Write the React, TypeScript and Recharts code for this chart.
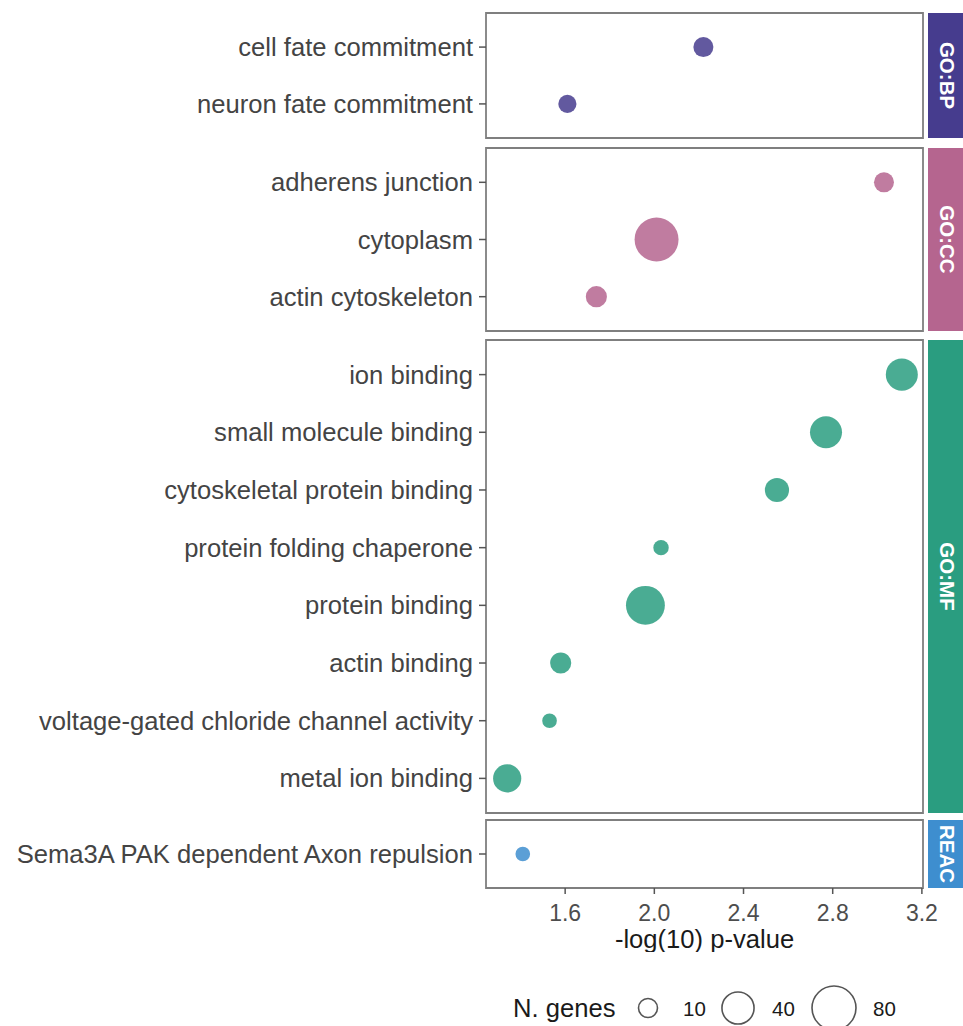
import React from 'react';
import { ScatterChart, Scatter, XAxis, YAxis, ZAxis, ReferenceArea } from 'recharts';

// ---------- data ----------
const facetNames = ['GO:BP', 'GO:CC', 'GO:MF', 'REAC'];
const facetColors = ['#463C8E', '#B5658F', '#2A9D80', '#3E8ECF'];

const bpTerms = ['cell fate commitment', 'neuron fate commitment'];
const bpLogP = [2.22, 1.61];
const bpGenes = [10, 7];

const ccTerms = ['adherens junction', 'cytoplasm', 'actin cytoskeleton'];
const ccLogP = [3.03, 2.01, 1.74];
const ccGenes = [10, 76, 12];

const mfTerms = [
  'ion binding',
  'small molecule binding',
  'cytoskeletal protein binding',
  'protein folding chaperone',
  'protein binding',
  'actin binding',
  'voltage-gated chloride channel activity',
  'metal ion binding',
];
const mfLogP = [3.11, 2.77, 2.55, 2.03, 1.96, 1.58, 1.53, 1.34];
const mfGenes = [37, 37, 18, 3, 58, 12, 2, 27];

const reacTerms = ['Sema3A PAK dependent Axon repulsion'];
const reacLogP = [1.41];
const reacGenes = [2];

const xTicks = [1.6, 2.0, 2.4, 2.8, 3.2];
const legendGenes = [10, 40, 80];
const xTitle = '-log(10) p-value';
const legendTitle = 'N. genes';

// ---------- layout ----------
const FONT = '"Liberation Sans", Arial, Helvetica, sans-serif';
const X_MIN = 1.245;
const X_MAX = 3.205;
const Z_DOMAIN: [number, number] = [0, 100];
const Z_RANGE: [number, number] = [132, 1954];
const PANEL_TOPS = [13, 148, 340, 820];
const PANEL_HEIGHTS = [125, 183, 473, 68];
const M = 4;
const X_AXIS_H = 60;

const facets = [
  { terms: bpTerms, logp: bpLogP, genes: bpGenes },
  { terms: ccTerms, logp: ccLogP, genes: ccGenes },
  { terms: mfTerms, logp: mfLogP, genes: mfGenes },
  { terms: reacTerms, logp: reacLogP, genes: reacGenes },
];

function zRadius(n: number) {
  const area = Z_RANGE[0] + ((n - Z_DOMAIN[0]) / (Z_DOMAIN[1] - Z_DOMAIN[0])) * (Z_RANGE[1] - Z_RANGE[0]);
  return Math.sqrt(area / Math.PI);
}

function Facet({ idx }: { idx: number }) {
  const f = facets[idx];
  const n = f.terms.length;
  const last = idx === facets.length - 1;
  const h = PANEL_HEIGHTS[idx];
  const data = f.terms.map((t, i) => ({ term: t, row: n - 1 - i, logp: f.logp[i], genes: f.genes[i] }));
  const rows = data.map((d) => d.row).sort((a, b) => a - b);
  const color = facetColors[idx];
  const xh = last ? X_AXIS_H : 0;
  return (
    <div style={{ position: 'absolute', left: 0, top: PANEL_TOPS[idx] - M }}>
      <ScatterChart width={963} height={h + 2 * M + xh} margin={{ top: M, right: 40, bottom: M, left: 0 }}>
        <XAxis
          type="number"
          dataKey="logp"
          domain={[X_MIN, X_MAX]}
          ticks={xTicks}
          allowDataOverflow
          hide={!last}
          height={xh}
          axisLine={false}
          tickSize={6}
          tickMargin={11}
          tickLine={{ stroke: '#555', strokeWidth: 1.5 }}
          tick={{ fontSize: 23, fill: '#4d4d4d', fontFamily: FONT }}
          tickFormatter={(v: number) => v.toFixed(1)}
          label={
            last
              ? { value: xTitle, position: 'insideBottom', offset: 0, fontSize: 25.6, fill: '#1a1a1a', fontFamily: FONT }
              : undefined
          }
        />
        <YAxis
          type="number"
          dataKey="row"
          domain={[-0.6, n - 0.4]}
          ticks={rows}
          interval={0}
          allowDataOverflow
          width={486}
          axisLine={false}
          tickSize={7}
          tickMargin={6}
          tickLine={{ stroke: '#555', strokeWidth: 1.5 }}
          tick={{ fontSize: 25.6, fill: '#444444', fontFamily: FONT }}
          tickFormatter={(v: number) => f.terms[n - 1 - v]}
        />
        <ZAxis type="number" dataKey="genes" domain={Z_DOMAIN} range={Z_RANGE} />
        <ReferenceArea
          x1={X_MIN}
          x2={X_MAX}
          y1={-0.6}
          y2={n - 0.4}
          fill="none"
          stroke="#7f7f7f"
          strokeWidth={1.8}
          ifOverflow="visible"
        />
        <Scatter data={data} fill={color} fillOpacity={0.85} isAnimationActive={false} />
      </ScatterChart>
      <svg style={{ position: 'absolute', left: 928, top: M }} width={40} height={h}>
        <rect x={0} y={0} width={40} height={h} fill={color} />
        <text
          x={19.7}
          y={h / 2}
          transform={`rotate(90, 19.7, ${h / 2})`}
          textAnchor="middle"
          dominantBaseline="central"
          fill="#ffffff"
          fontWeight="bold"
          fontSize={20.5}
          fontFamily={FONT}
        >
          {facetNames[idx]}
        </text>
      </svg>
    </div>
  );
}

function SizeLegend() {
  const cxs = [648, 738, 834];
  const labelXs = [683, 772, 873];
  const cy = 1008;
  return (
    <svg style={{ position: 'absolute', left: 0, top: 0 }} width={963} height={1026} pointerEvents="none">
      <text x={513} y={1017} fontSize={25.6} fill="#1a1a1a" fontFamily={FONT}>
        {legendTitle}
      </text>
      {legendGenes.map((g, i) => (
        <g key={g}>
          <circle cx={cxs[i]} cy={cy} r={zRadius(g) - 0.5} fill="#ffffff" stroke="#555" strokeWidth={1.6} />
          <text x={labelXs[i]} y={1016} fontSize={20.5} fill="#1a1a1a" fontFamily={FONT}>
            {g}
          </text>
        </g>
      ))}
    </svg>
  );
}

export default function App() {
  return (
    <div style={{ position: 'absolute', left: 0, top: 0, width: 963, height: 1026, background: '#fff', overflow: 'hidden' }}>
      {facets.map((_, i) => (
        <Facet key={i} idx={i} />
      ))}
      <SizeLegend />
    </div>
  );
}
